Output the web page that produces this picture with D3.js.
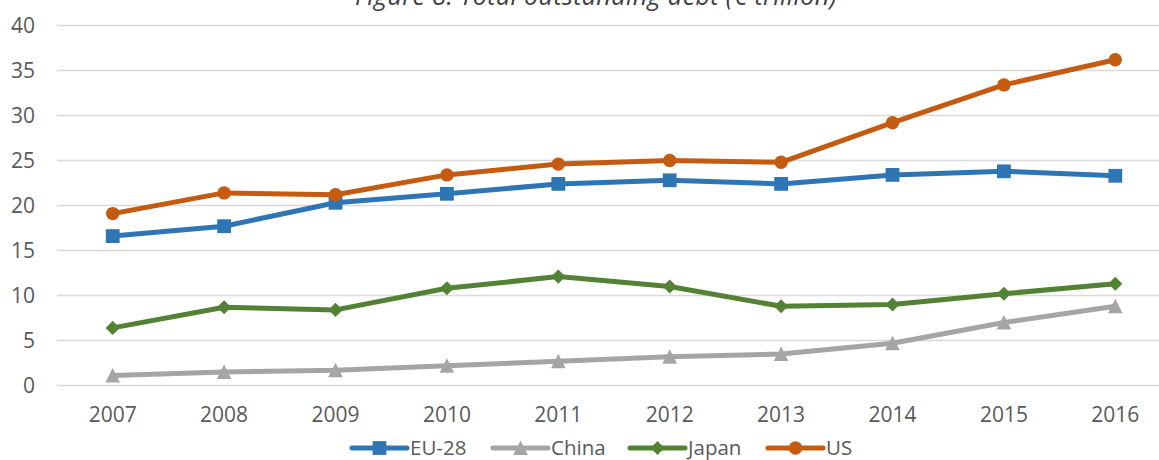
<!DOCTYPE html>
<html>
<head>
<meta charset="utf-8">
<script src="https://cdn.jsdelivr.net/npm/d3@7"></script>
<style>
  html, body { margin: 0; padding: 0; background: #fff; }
  svg { display: block; }
  text { font-family: "Open Sans", "Noto Sans", sans-serif; }
</style>
</head>
<body>
<svg id="chart" width="1159" height="460"></svg>
<script>
const title = "Figure 8: Total outstanding debt (€ trillion)";
const years = ["2007","2008","2009","2010","2011","2012","2013","2014","2015","2016"];
const yTicks = [0,5,10,15,20,25,30,35,40];
const seriesNames = ["EU-28","China","Japan","US"];
const eu28  = [16.6, 17.7, 20.3, 21.3, 22.4, 22.8, 22.4, 23.4, 23.8, 23.3];
const china = [1.1, 1.5, 1.7, 2.2, 2.7, 3.2, 3.5, 4.7, 7.0, 8.8];
const japan = [6.4, 8.7, 8.4, 10.8, 12.1, 11.0, 8.8, 9.0, 10.2, 11.3];
const us    = [19.1, 21.4, 21.2, 23.4, 24.6, 25.0, 24.8, 29.2, 33.4, 36.2];

const colors = {"EU-28":"#2E75B6","China":"#A5A5A5","Japan":"#548235","US":"#C55A11"};
const markers = {"EU-28":"square","China":"triangle","Japan":"diamond","US":"circle"};
const seriesData = {"EU-28":eu28,"China":china,"Japan":japan,"US":us};

const svg = d3.select("#chart");
const x = d3.scaleBand().domain(years).range([57, 1171]).padding(0);
const xc = d => x(d) + x.bandwidth()/2;
const y = d3.scaleLinear().domain([0,40]).range([385.5, 25.5]);

// title (partly above the top edge, as in the source)
svg.append("text")
  .attr("x", 596).attr("y", 5)
  .attr("text-anchor","middle")
  .attr("font-style","italic")
  .attr("font-size", 25)
  .attr("letter-spacing", 0.4)
  .attr("fill","#404040")
  .text(title);

// gridlines
svg.append("g").selectAll("line").data(yTicks).join("line")
  .attr("x1", 57).attr("x2", 1171)
  .attr("y1", d => y(d)).attr("y2", d => y(d))
  .attr("stroke","#d9d9d9").attr("stroke-width",1.5);

// y axis labels
const yAxis = d3.axisLeft(y).tickValues(yTicks).tickSize(0).tickPadding(0);
const gy = svg.append("g").attr("transform","translate(35,0)").call(yAxis);
gy.select(".domain").remove();
gy.selectAll("text").attr("font-size",21).attr("fill","#595959")
  .attr("font-family",'"Open Sans", sans-serif');

// x axis labels
const xAxis = d3.axisBottom(x).tickSize(0).tickPadding(0);
const gx = svg.append("g").attr("transform","translate(0,407)").call(xAxis);
gx.select(".domain").remove();
gx.selectAll("text").attr("font-size",21).attr("fill","#595959")
  .attr("font-family",'"Open Sans", sans-serif');

const tri = "M0,-7.5L7.3,7L-7.3,7Z";
const symbolFor = {
  square: d3.symbol().type(d3.symbolSquare).size(190)(),
  triangle: tri,
  diamond: d3.symbol().type(d3.symbolSquare).size(100)(),
  circle: d3.symbol().type(d3.symbolCircle).size(141)()
};
function drawMarker(g, name, cx, cy) {
  const m = markers[name];
  const p = g.append("path").attr("d", symbolFor[m]).attr("fill", colors[name]);
  let t = `translate(${cx},${cy})`;
  if (m === "diamond") t += " rotate(45)";
  p.attr("transform", t);
}

const line = d3.line().x((d,i) => xc(years[i])).y(d => y(d));
const order = ["China","Japan","EU-28","US"];
order.forEach(name => {
  const g = svg.append("g");
  g.append("path").datum(seriesData[name]).attr("d", line)
    .attr("fill","none").attr("stroke",colors[name]).attr("stroke-width",5)
    .attr("stroke-linejoin","round").attr("stroke-linecap","round");
  seriesData[name].forEach((v,i) => drawMarker(g, name, xc(years[i]), y(v)));
});

// legend
const legendX = {"EU-28":352,"China":493,"Japan":630,"US":768};
seriesNames.forEach(name => {
  const g = svg.append("g");
  const lx = legendX[name];
  g.append("line").attr("x1",lx).attr("x2",lx+55).attr("y1",448).attr("y2",448)
    .attr("stroke",colors[name]).attr("stroke-width",5).attr("stroke-linecap","round");
  drawMarker(g, name, lx+27.5, 448);
  g.append("text").attr("x", lx+58).attr("y", 454.5)
    .attr("font-size",20.5).attr("fill","#595959").text(name);
});
</script>
</body>
</html>
